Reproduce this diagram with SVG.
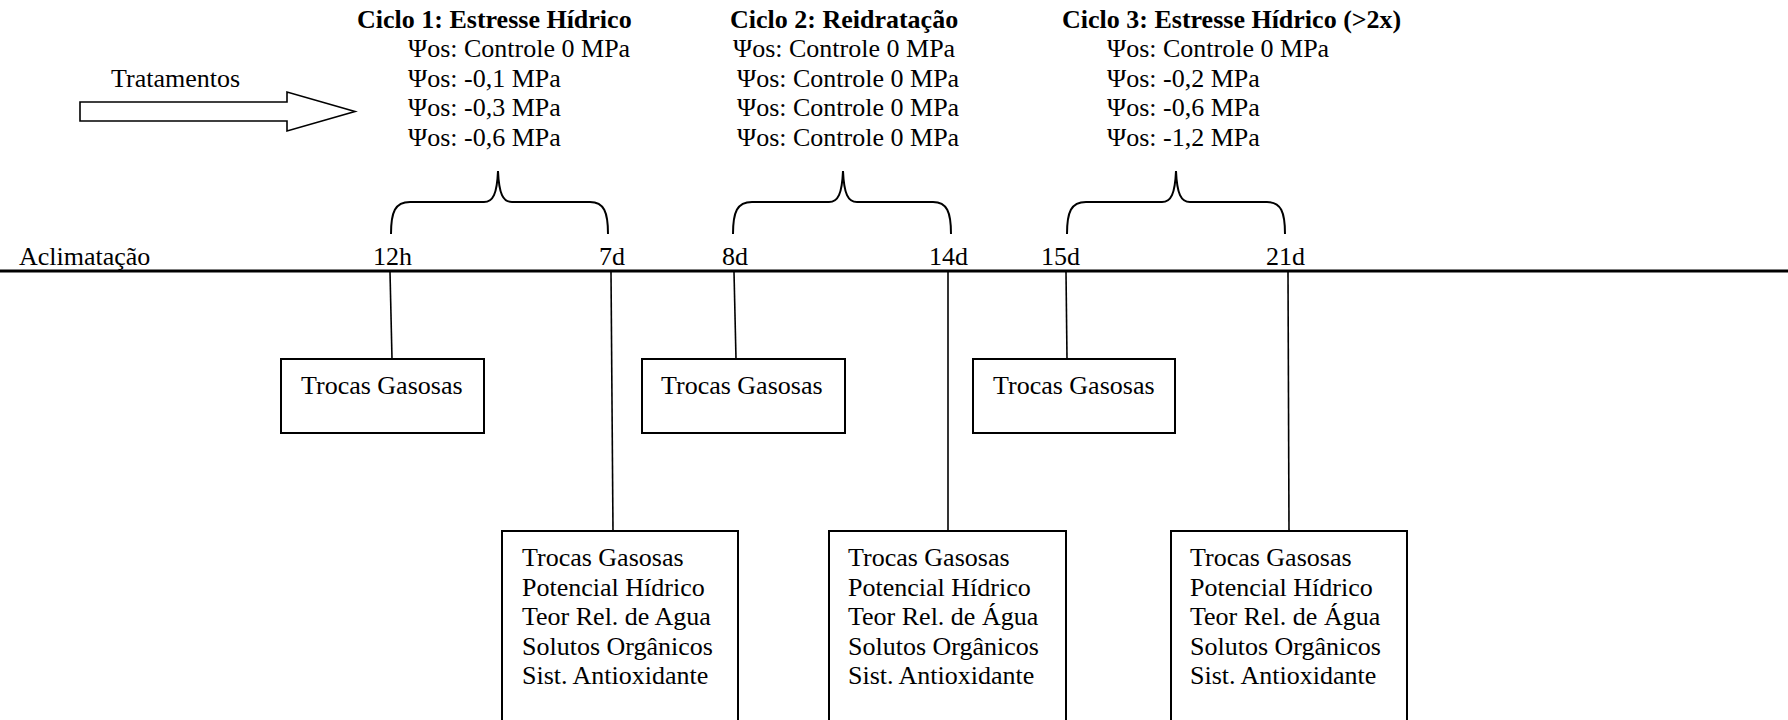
<svg xmlns="http://www.w3.org/2000/svg" width="1788" height="720" viewBox="0 0 1788 720">
<style>
text{font-family:"Liberation Serif","Times New Roman",serif;font-size:26px;fill:#000}
.b{font-weight:bold}
.box{fill:#fff;stroke:#000;stroke-width:2}
.ln{fill:none;stroke:#000;stroke-width:1.6}
.br{fill:none;stroke:#000;stroke-width:2}
</style>
<rect width="1788" height="720" fill="#fff"/>
<g id="tratamentos">
<text x="111" y="87">Tratamentos</text>
<polygon points="80,102 287,102 287,92 355,111.5 287,131 287,121 80,121" fill="#fff" stroke="#000" stroke-width="1.6"/>
</g>
<g id="ciclo1">
<text class="b" x="357" y="28">Ciclo 1: Estresse Hídrico</text>
<text x="408" y="57">Ψos: Controle 0 MPa</text>
<text x="408" y="86.5">Ψos: -0,1 MPa</text>
<text x="408" y="116">Ψos: -0,3 MPa</text>
<text x="408" y="146">Ψos: -0,6 MPa</text>
</g>
<g id="ciclo2">
<text class="b" x="730" y="28">Ciclo 2: Reidratação</text>
<text x="733" y="57">Ψos: Controle 0 MPa</text>
<text x="737" y="86.5">Ψos: Controle 0 MPa</text>
<text x="737" y="116">Ψos: Controle 0 MPa</text>
<text x="737" y="146">Ψos: Controle 0 MPa</text>
</g>
<g id="ciclo3">
<text class="b" x="1062" y="28">Ciclo 3: Estresse Hídrico (&gt;2x)</text>
<text x="1107" y="57">Ψos: Controle 0 MPa</text>
<text x="1107" y="86.5">Ψos: -0,2 MPa</text>
<text x="1107" y="116">Ψos: -0,6 MPa</text>
<text x="1107" y="146">Ψos: -1,2 MPa</text>
</g>
<g id="braces">
<path class="br" d="M391,234 C391,212 395,202 410,202 L484,202 C493,202 497,194 498,171 C499,194 503,202 512,202 L590,202 C604,202 608,212 608,234"/>
<path class="br" d="M733,234 C733,212 737,202 752,202 L829,202 C838,202 842,194 843,171 C844,194 848,202 857,202 L933,202 C947,202 951,212 951,234"/>
<path class="br" d="M1067,234 C1067,212 1071,202 1086,202 L1162,202 C1171,202 1175,194 1176,171 C1177,194 1181,202 1190,202 L1267,202 C1281,202 1285,212 1285,234"/>
</g>
<g id="timeline">
<line x1="0" y1="271" x2="1788" y2="271" stroke="#000" stroke-width="3"/>
<text x="19" y="265">Aclimatação</text>
<text x="373" y="265">12h</text>
<text x="599" y="265">7d</text>
<text x="722" y="265">8d</text>
<text x="929" y="265">14d</text>
<text x="1041" y="265">15d</text>
<text x="1266" y="265">21d</text>
</g>
<g id="connectors">
<line class="ln" x1="390" y1="272" x2="392" y2="359"/>
<line class="ln" x1="611" y1="272" x2="613" y2="531"/>
<line class="ln" x1="734" y1="272" x2="736" y2="359"/>
<line class="ln" x1="948" y1="272" x2="948" y2="531"/>
<line class="ln" x1="1066" y1="272" x2="1067" y2="359"/>
<line class="ln" x1="1288" y1="272" x2="1289" y2="531"/>
</g>
<g id="tg1">
<rect class="box" x="281" y="359" width="203" height="74"/>
<text x="301" y="394">Trocas Gasosas</text>
</g>
<g id="tg2">
<rect class="box" x="642" y="359" width="203" height="74"/>
<text x="661" y="394">Trocas Gasosas</text>
</g>
<g id="tg3">
<rect class="box" x="973" y="359" width="202" height="74"/>
<text x="993" y="394">Trocas Gasosas</text>
</g>
<g id="analises1">
<rect class="box" x="502" y="531" width="236" height="200"/>
<text x="522" y="566">Trocas Gasosas</text>
<text x="522" y="595.5">Potencial Hídrico</text>
<text x="522" y="625">Teor Rel. de Agua</text>
<text x="522" y="654.5">Solutos Orgânicos</text>
<text x="522" y="684">Sist. Antioxidante</text>
</g>
<g id="analises2">
<rect class="box" x="829" y="531" width="237" height="200"/>
<text x="848" y="566">Trocas Gasosas</text>
<text x="848" y="595.5">Potencial Hídrico</text>
<text x="848" y="625">Teor Rel. de Água</text>
<text x="848" y="654.5">Solutos Orgânicos</text>
<text x="848" y="684">Sist. Antioxidante</text>
</g>
<g id="analises3">
<rect class="box" x="1171" y="531" width="236" height="200"/>
<text x="1190" y="566">Trocas Gasosas</text>
<text x="1190" y="595.5">Potencial Hídrico</text>
<text x="1190" y="625">Teor Rel. de Água</text>
<text x="1190" y="654.5">Solutos Orgânicos</text>
<text x="1190" y="684">Sist. Antioxidante</text>
</g>
</svg>
